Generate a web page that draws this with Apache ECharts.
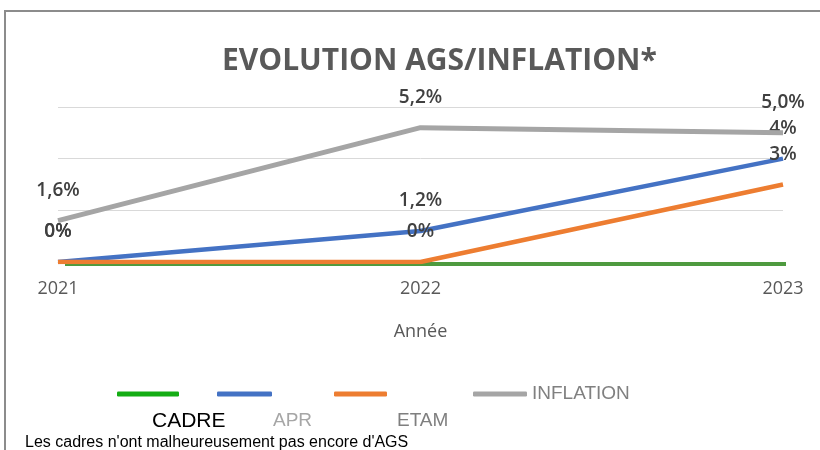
<!DOCTYPE html>
<html>
<head>
<meta charset="utf-8">
<script src="https://cdn.jsdelivr.net/npm/echarts@6/dist/echarts.min.js"></script>
<style>html,body{margin:0;padding:0;background:#fff}#c{width:820px;height:450px}</style>
</head>
<body>
<div id="c"></div>
<script>
var years = ['2021', '2022', '2023'];
var cadre = [0, 0, 0];
var apr = [0, 1.2, 4];
var etam = [0, 0, 3];
var inflation = [1.6, 5.2, 5.0];
var yTicks = [0, 2, 4, 6];
var seriesNames = ['CADRE', 'APR', 'ETAM', 'INFLATION'];
var titleText = 'EVOLUTION AGS/INFLATION*';
var axisName = 'Année';
var footnote = "Les cadres n'ont malheureusement pas encore d'AGS";

var LABEL_FONT = '"Open Sans", sans-serif';
var SANS = '"Liberation Sans", Arial, sans-serif';

function fmt(decimals) {
  return function (p) {
    var v = p.value;
    var s = decimals ? v.toFixed(decimals) : String(v);
    return s.replace('.', ',') + '%';
  };
}
function lbl(decimals) {
  return {
    show: true, position: 'top', distance: 20,
    formatter: fmt(decimals),
    color: '#404040', fontFamily: LABEL_FONT, fontSize: 19, fontWeight: 600, lineHeight: 20
  };
}

var chart = echarts.init(document.getElementById('c'), null, {renderer: 'canvas'});
var legendBase = {
  orient: 'horizontal', padding: 0, itemHeight: 5,
  icon: 'roundRect', selectedMode: false,
  textStyle: {fontFamily: SANS, fontSize: 19, lineHeight: 24, color: '#808080'}
};
function legendFor(name, left, top, width, color, showText) {
  return Object.assign({}, legendBase, {
    left: left, top: top, itemWidth: width,
    data: [{name: name, itemStyle: {color: color}}],
    formatter: showText ? '{name}' : function () { return ''; }
  });
}
function lineSeries(name, data, color, width, z, label, extra) {
  return Object.assign({
    name: name, type: 'line', data: data,
    symbol: 'circle', symbolSize: 0.1, showSymbol: true,
    lineStyle: {color: color, width: width}, itemStyle: {color: color},
    label: label || {show: false}, z: z
  }, extra || {});
}

chart.setOption({
  animation: false,
  title: {
    text: titleText, left: 217, top: 41,
    textStyle: {fontFamily: LABEL_FONT, fontWeight: 'bold', fontSize: 30, color: '#595959'}
  },
  legend: [
    legendFor(seriesNames[0], 117, 391.5, 62, '#14ad14', false),
    legendFor(seriesNames[1], 217, 391.5, 55, '#4472c4', false),
    legendFor(seriesNames[2], 334, 391.5, 53, '#ed7d31', false),
    legendFor(seriesNames[3], 473, 382, 54, '#a5a5a5', true)
  ],
  grid: [
    {left: 58, right: 37, top: 107, bottom: 188},
    {left: 65, right: 34, top: 109, bottom: 186}
  ],
  xAxis: [
    {
      type: 'category', data: years, boundaryGap: false, gridIndex: 0,
      axisLine: {show: true, lineStyle: {color: '#d9d9d9', width: 1}},
      axisTick: {show: false},
      axisLabel: {margin: 18, color: '#595959', fontFamily: LABEL_FONT, fontSize: 18},
      name: axisName, nameLocation: 'middle', nameGap: 61,
      nameTextStyle: {color: '#595959', fontFamily: LABEL_FONT, fontSize: 18}
    },
    {type: 'category', data: years, boundaryGap: false, gridIndex: 1, show: false}
  ],
  yAxis: [
    {
      type: 'value', min: yTicks[0], max: yTicks[yTicks.length - 1], interval: 2, gridIndex: 0,
      axisLine: {show: false}, axisTick: {show: false}, axisLabel: {show: false},
      splitLine: {lineStyle: {color: '#d9d9d9', width: 1}}
    },
    {type: 'value', min: yTicks[0], max: yTicks[yTicks.length - 1], interval: 2, gridIndex: 1, show: false, splitLine: {show: false}}
  ],
  series: [
    lineSeries(seriesNames[0], cadre, '#4e9a3f', 4, 2, null, {xAxisIndex: 1, yAxisIndex: 1}),
    lineSeries(seriesNames[1], apr, '#4472c4', 4.5, 3, lbl(0)),
    lineSeries(seriesNames[2], etam, '#ed7d31', 4.5, 4, lbl(0)),
    lineSeries(seriesNames[3], inflation, '#a5a5a5', 5, 5, lbl(1))
  ],
  graphic: [
    {type: 'rect', shape: {x: 5, y: 11, width: 900, height: 600}, style: {fill: 'none', stroke: '#8c8c8c', lineWidth: 2}, silent: true},
    {type: 'text', x: 152, y: 421, style: {text: seriesNames[0], fill: '#000', font: '21px ' + SANS, verticalAlign: 'middle'}},
    {type: 'text', x: 273, y: 421, style: {text: seriesNames[1], fill: '#a6a6a6', font: '19px ' + SANS, verticalAlign: 'middle'}},
    {type: 'text', x: 397, y: 421, style: {text: seriesNames[2], fill: '#7f7f7f', font: '19px ' + SANS, verticalAlign: 'middle'}},
    {type: 'text', x: 25, y: 443, style: {text: footnote, fill: '#000', font: '16px ' + SANS, verticalAlign: 'middle'}}
  ]
});
</script>
</body>
</html>
